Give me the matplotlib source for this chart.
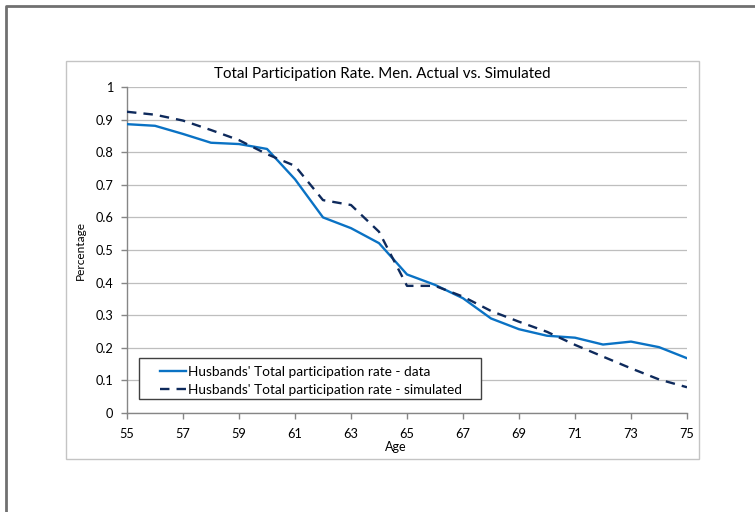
import numpy as np
import matplotlib.pyplot as plt
from matplotlib.patches import Rectangle
from matplotlib.lines import Line2D

plt.rcParams['font.family'] = ['Lato', 'DejaVu Sans']

# ages 55 .. 75
age = np.arange(55, 76)
# husbands' total participation rate, observed
rate_data = [0.886, 0.881, 0.856, 0.829, 0.825, 0.810, 0.717, 0.600, 0.567, 0.521, 0.425,
             0.393, 0.352, 0.290, 0.257, 0.237, 0.231, 0.210, 0.219, 0.202, 0.168]
# husbands' total participation rate, model
rate_sim = [0.924, 0.915, 0.897, 0.868, 0.837, 0.794, 0.758, 0.653, 0.638, 0.556, 0.390,
            0.390, 0.357, 0.313, 0.280, 0.249, 0.209, 0.173, 0.137, 0.103, 0.079]
labels = ["Husbands' Total participation rate - data",
          "Husbands' Total participation rate - simulated"]

W, H = 755, 512
fig = plt.figure(figsize=(W / 100, H / 100), dpi=100)

def fx(px):
    return px / W

def fy(py):
    return 1 - py / H

# outer frame (runs off the right and bottom edge)
fig.add_artist(Line2D([fx(6), fx(6), fx(760)], [fy(520), fy(5.5), fy(5.5)],
                      transform=fig.transFigure, color='#707070', linewidth=2))
# chart area border
fig.add_artist(Rectangle((fx(66), fy(459)), fx(699) - fx(66), fy(61) - fy(459),
                         transform=fig.transFigure, facecolor='none',
                         edgecolor='#C4C4C4', linewidth=1))

ax = fig.add_axes([fx(127), fy(413), fx(687) - fx(127), fy(87) - fy(413)])
ax.plot(age, rate_data, color='#0A72C4', linewidth=1.7, label=labels[0], zorder=4)
ax.plot(age, rate_sim, color='#0E2A5C', linewidth=1.7, linestyle=(0, (4, 3)),
        label=labels[1], zorder=4)

ax.set_xlim(55, 75)
ax.set_ylim(0, 1)
ax.set_xticks(np.arange(55, 76, 2))
ax.set_yticks(np.arange(0, 1.01, 0.1))
ax.set_yticklabels(['0', '0.1', '0.2', '0.3', '0.4', '0.5', '0.6', '0.7', '0.8', '0.9', '1'])
ax.grid(axis='y', color='#BEBEBE', linewidth=0.9)
ax.set_axisbelow(True)
for s in ['top', 'right']:
    ax.spines[s].set_visible(False)
for s in ['left', 'bottom']:
    ax.spines[s].set_color('#868686')
    ax.spines[s].set_linewidth(1)
ax.tick_params(colors='#868686', labelcolor='black', labelsize=9.2, length=4, width=1)
ax.tick_params(axis='x', pad=7)
ax.tick_params(axis='y', pad=6)

fig.text(fx(382.5), fy(74), 'Total Participation Rate. Men. Actual vs. Simulated',
         ha='center', va='center', fontsize=10.9)
fig.text(fx(396), fy(447), 'Age', ha='center', va='center', fontsize=9)
fig.text(fx(80), fy(250), 'Percentage', ha='center', va='center', rotation=90, fontsize=8.6)

# legend box
ax.add_patch(Rectangle((fx(139), fy(399)), fx(481) - fx(139), fy(358) - fy(399),
                       transform=fig.transFigure, facecolor='white',
                       edgecolor='#404040', linewidth=1, zorder=3))
leg = ax.legend(loc='upper left', bbox_to_anchor=(fx(153), fy(359)),
                bbox_transform=fig.transFigure, frameon=False, fontsize=9.8,
                borderpad=0, handlelength=1.9, handletextpad=0.2, labelspacing=0.45)
leg.set_zorder(5)

fig.savefig('out.png', dpi=100)
